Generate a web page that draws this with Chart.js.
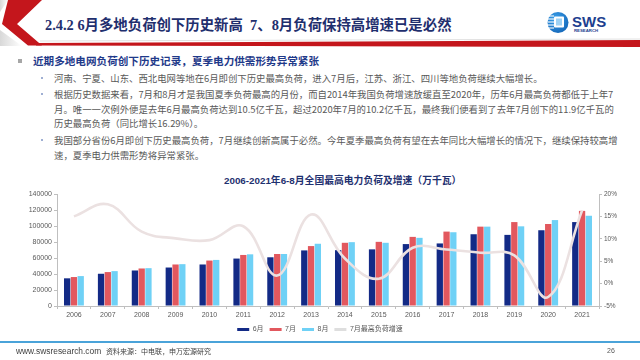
<!DOCTYPE html>
<html><head><meta charset="utf-8">
<script src="https://cdn.jsdelivr.net/npm/chart.js@4.4.0/dist/chart.umd.min.js"></script>
<style>
html,body{margin:0;padding:0;background:#fff;}
#slide{position:relative;width:640px;height:360px;overflow:hidden;background:#fff;font-family:"Noto Sans CJK SC",sans-serif;}
.abs{position:absolute;white-space:nowrap;}
.t{font-size:9.4px;color:#595959;line-height:12px;left:54px;}
.dot{position:absolute;left:41px;width:2px;height:2px;background:#7f95c4;border-radius:1px;}
</style></head>
<body><div id="slide">
<svg class="abs" style="left:0;top:0" width="640" height="50">
 <defs>
  <linearGradient id="lg" x1="0" x2="1" y1="0" y2="0"><stop offset="0" stop-color="#d8d8d8"/><stop offset="1" stop-color="#ffffff"/></linearGradient>
  <radialGradient id="cg" cx="0.4" cy="0.35" r="0.7"><stop offset="0" stop-color="#3fa6ee"/><stop offset="1" stop-color="#1466b8"/></radialGradient>
 </defs>
 <polygon points="0,0 8,0 0,12" fill="url(#lg)"/>
 <polygon points="0,30 0,46 22,46" fill="url(#lg)"/>
 <line x1="40" y1="41" x2="640" y2="39" stroke="#e2e2e2" stroke-width="1"/>
 <polygon points="36,43 640,40 640,47 36,45.5" fill="#c4161c"/>
 <polygon points="8,0 42,0 17,24 42,45.5 28,45.5 2,24" fill="#c4161c"/>
 <circle cx="558" cy="22.5" r="10.5" fill="url(#cg)"/>
 <g stroke="#fff" stroke-width="1.1">
  <line x1="547" y1="16" x2="554" y2="16"/><line x1="547.5" y1="19" x2="554" y2="19"/>
  <line x1="547.5" y1="22" x2="554" y2="22"/><line x1="547.5" y1="25" x2="554" y2="25"/>
  <line x1="548" y1="28" x2="554" y2="28"/>
 </g>
 <rect x="554" y="16.5" width="10" height="11" rx="1" fill="#fff"/>
 <rect x="556" y="18.5" width="6" height="7" fill="#9fd2f4"/>
 <text x="572" y="27" font-family="Liberation Sans" font-weight="bold" font-size="15" fill="#1d3f8f">SWS</text>
 <text x="574" y="32" font-family="Liberation Sans" font-weight="bold" font-size="4.3" fill="#1d3f8f">RESEARCH</text>
</svg>
<div class="abs" style="left:45px;top:16px;line-height:18px;font-size:14.4px;font-weight:bold;color:#1f2f6e;font-family:'Liberation Serif','Noto Sans CJK SC',serif;">2.4.2 6月多地负荷创下历史新高&nbsp;&nbsp;7、8月负荷保持高增速已是必然</div>

<div class="abs" style="left:18px;top:59px;width:3.5px;height:3.5px;background:#a6a6a6;"></div>
<div class="abs" style="left:33px;top:54px;line-height:14px;font-size:10.6px;font-weight:bold;color:#1f3a8a;">近期多地电网负荷创下历史记录，夏季电力供需形势异常紧张</div>

<div class="dot" style="top:77px;"></div>
<div class="abs t" style="top:72px;">河南、宁夏、山东、西北电网等地在6月即创下历史最高负荷，进入7月后，江苏、浙江、四川等地负荷继续大幅增长。</div>
<div class="dot" style="top:93px;"></div>
<div class="abs t" style="top:88px;">根据历史数据来看，7月和8月才是我国夏季负荷最高的月份，而自2014年我国负荷增速放缓直至2020年，历年6月最高负荷都低于上年7</div>
<div class="abs t" style="top:102.5px;">月。唯一一次例外便是去年6月最高负荷达到10.5亿千瓦，超过2020年7月的10.2亿千瓦，最终我们便看到了去年7月创下的11.9亿千瓦的</div>
<div class="abs t" style="top:117px;">历史最高负荷（同比增长16.29%）。</div>
<div class="dot" style="top:139px;"></div>
<div class="abs t" style="top:134px;">我国部分省份6月即创下历史最高负荷，7月继续创新高属于必然。今年夏季最高负荷有望在去年同比大幅增长的情况下，继续保持较高增</div>
<div class="abs t" style="top:149px;">速，夏季电力供需形势将异常紧张。</div>

<div class="abs" style="left:224px;top:174px;line-height:14px;font-size:9.8px;font-weight:bold;color:#1f3170;font-family:'Liberation Sans','Noto Sans CJK SC',sans-serif;">2006-2021年6-8月全国最高电力负荷及增速（万千瓦）</div>

<canvas id="c" class="abs" style="left:0;top:186px;" width="640" height="157"></canvas>

<div class="abs" style="left:0;top:341px;width:640px;height:1.5px;background:#4aa3d9;"></div>
<div class="abs" style="left:16px;top:345px;line-height:12px;font-size:8.4px;color:#404040;font-family:'Liberation Sans',sans-serif;">www.swsresearch.com</div>
<div class="abs" style="left:106px;top:345px;line-height:12px;font-size:7px;color:#404040;">资料来源：中电联，申万宏源研究</div>
<div class="abs" style="left:607px;top:345px;line-height:12px;font-size:7px;color:#595959;font-family:'Liberation Sans',sans-serif;">26</div>
</div>
<script>
const years = ['2006','2007','2008','2009','2010','2011','2012','2013','2014','2015','2016','2017','2018','2019','2020','2021'];
const june = [34600,40300,44400,48100,51900,59300,60900,69500,69800,70800,77400,78200,89700,88900,94700,104900];
const july = [36200,42400,46900,51900,56800,63800,65000,74900,79000,80200,86400,93000,99200,104900,102500,118900];
const august = [37400,43600,47300,52300,57600,64600,65000,77800,79800,79000,85200,92200,99200,99600,107400,112800];
const julyGrowth = [15.0,17.7,11.6,10.1,9.7,12.8,1.8,15.4,5.6,1.1,8.0,7.6,6.9,6.3,-3.0,16.3];
const seriesNames = ['6月','7月','8月','7月最高负荷增速'];

const FONT = '"Liberation Sans","Noto Sans CJK SC",sans-serif';
new Chart(document.getElementById('c'), {
  data: {
    labels: years,
    datasets: [
      {type:'bar', label:seriesNames[0], data:june, backgroundColor:'#132a86', yAxisID:'y', order:1, barPercentage:0.93, categoryPercentage:0.6},
      {type:'bar', label:seriesNames[1], data:july, backgroundColor:'#e2585e', yAxisID:'y', order:1, barPercentage:0.93, categoryPercentage:0.6},
      {type:'bar', label:seriesNames[2], data:august, backgroundColor:'#6fd1f6', yAxisID:'y', order:1, barPercentage:0.93, categoryPercentage:0.6},
      {type:'line', label:seriesNames[3], data:julyGrowth, borderColor:'#ebe1e1', backgroundColor:'#dedede', borderWidth:2.6, pointRadius:0, tension:0.4, yAxisID:'y1', order:0}
    ]
  },
  options: {
    responsive:false, animation:false, devicePixelRatio:1,
    layout:{padding:{left:0,right:0,top:8,bottom:0}},
    plugins:{
      title:{display:false}, tooltip:{enabled:false},
      legend:{position:'bottom', labels:{
        boxWidth:12, boxHeight:3, padding:6, color:'#595959', font:{size:7, family:FONT},
        sort:(a,b)=>a.datasetIndex-b.datasetIndex,
        generateLabels:(chart)=>Chart.defaults.plugins.legend.labels.generateLabels(chart).map(it=>{it.lineWidth=0;it.strokeStyle='rgba(0,0,0,0)';return it;})
      }}
    },
    scales:{
      x:{grid:{display:true,drawOnChartArea:false,tickLength:3,color:'#bfbfbf'}, border:{color:'#bfbfbf'},
         ticks:{color:'#595959',font:{size:7,family:FONT},padding:2,maxRotation:0,autoSkip:false},
         afterFit:(s)=>{s.height=14;}},
      y:{position:'left', min:0, max:140000, grid:{display:true,drawOnChartArea:false,tickLength:3,color:'#bfbfbf'}, border:{color:'#bfbfbf'},
         ticks:{stepSize:20000,color:'#595959',font:{size:7,family:FONT},padding:2,callback:(v)=>String(v)},
         afterFit:(s)=>{s.width=57;}},
      y1:{position:'right', min:-5, max:20, grid:{display:true,drawOnChartArea:false,tickLength:3,color:'#bfbfbf'}, border:{color:'#bfbfbf'},
         ticks:{stepSize:5,color:'#595959',font:{size:6.5,family:FONT},padding:2,callback:(v)=>v+'%'},
         afterFit:(s)=>{s.width=41;}}
    }
  }
});
</script>
</body></html>
